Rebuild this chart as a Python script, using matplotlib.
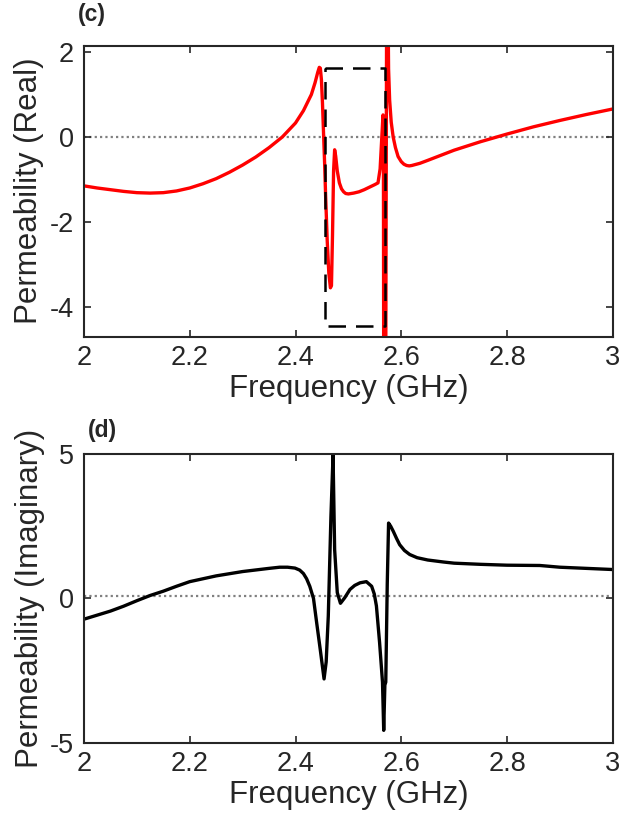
import matplotlib
matplotlib.use("Agg")
import matplotlib.pyplot as plt

plt.rcParams["font.family"] = ["Liberation Sans", "DejaVu Sans"]

# ── data ────────────────────────────────────────────────
freq_re = [2.00, 2.025, 2.05, 2.075, 2.10, 2.125, 2.15, 2.175, 2.20, 2.225,
           2.25, 2.275, 2.30, 2.325, 2.35, 2.375, 2.40, 2.415, 2.43, 2.437,
           2.442, 2.445, 2.447, 2.449, 2.451, 2.453, 2.455, 2.457, 2.460, 2.463,
           2.466, 2.468, 2.470, 2.472, 2.474, 2.476, 2.479, 2.483, 2.487, 2.491,
           2.495, 2.500, 2.510, 2.520, 2.530, 2.540, 2.550, 2.556, 2.560, 2.563,
           2.5655, 2.5662, 2.5668, 2.5700, 2.5725, 2.5740, 2.576, 2.578, 2.581, 2.5847,
           2.589, 2.594, 2.600, 2.605, 2.610, 2.615, 2.620, 2.635, 2.65, 2.675,
           2.70, 2.75, 2.80, 2.85, 2.90, 2.95, 3.00]
mu_re = [-1.15, -1.20, -1.24, -1.28, -1.31, -1.32, -1.31, -1.27, -1.20, -1.10,
         -0.98, -0.83, -0.66, -0.47, -0.25, 0.00, 0.33, 0.62, 1.00, 1.28,
         1.52, 1.64, 1.62, 1.35, 0.80, 0.10, -0.60, -1.40, -2.45, -3.20,
         -3.55, -3.50, -2.30, -0.80, -0.30, -0.45, -0.80, -1.08, -1.22, -1.29,
         -1.33, -1.34, -1.32, -1.29, -1.24, -1.18, -1.12, -1.08, -0.75, -0.05,
         0.52, 0.20, -6.00, -9.00, 4.00, 4.50, 1.60, 0.87, 0.35, 0.00,
         -0.25, -0.46, -0.58, -0.64, -0.67, -0.68, -0.67, -0.62, -0.55, -0.43,
         -0.31, -0.11, 0.07, 0.24, 0.39, 0.53, 0.66]

freq_im = [2.00, 2.025, 2.05, 2.075, 2.10, 2.125, 2.15, 2.175, 2.20, 2.25,
           2.30, 2.35, 2.37, 2.385, 2.399, 2.408, 2.415, 2.421, 2.427, 2.434,
           2.44, 2.447, 2.454, 2.458, 2.462, 2.467, 2.471, 2.474, 2.479, 2.485,
           2.493, 2.503, 2.512, 2.522, 2.534, 2.544, 2.549, 2.553, 2.559, 2.5645,
           2.5668, 2.5690, 2.5707, 2.5735, 2.576, 2.580, 2.585, 2.591, 2.597, 2.606,
           2.616, 2.63, 2.65, 2.68, 2.70, 2.75, 2.80, 2.862, 2.90, 2.95,
           3.00]
mu_im = [-0.72, -0.58, -0.44, -0.27, -0.08, 0.10, 0.25, 0.42, 0.58, 0.78,
         0.93, 1.04, 1.08, 1.08, 1.05, 0.98, 0.86, 0.68, 0.42, 0.00,
         -0.84, -1.80, -2.79, -2.20, -0.61, 2.84, 4.97, 1.69, 0.20, -0.17,
         0.02, 0.31, 0.45, 0.54, 0.58, 0.42, 0.15, -0.26, -1.53, -2.90,
         -4.57, -3.00, -2.90, 0.50, 2.61, 2.50, 2.32, 2.08, 1.86, 1.66,
         1.52, 1.41, 1.33, 1.26, 1.22, 1.18, 1.15, 1.14, 1.08, 1.04,
         1.00]

box_f = [2.456, 2.569]
box_mu = [-4.46, 1.62]

txt = "#262626"

fig = plt.figure(figsize=(6.41, 8.26), dpi=100)
ax1 = fig.add_axes([0.131, 0.5924, 0.825, 0.3523])
ax2 = fig.add_axes([0.131, 0.1008, 0.825, 0.3495])

for ax in (ax1, ax2):
    ax.tick_params(direction="in", length=5, width=1.2, labelsize=19.5,
                   colors=txt, top=True, right=True, pad=6)
    ax.tick_params(axis="y", pad=7)
    for s in ax.spines.values():
        s.set_linewidth(1.5)
        s.set_color(txt)
    ax.set_xlim(2, 3)
    ax.set_xticks([2, 2.2, 2.4, 2.6, 2.8, 3])
    ax.set_xticklabels(["2", "2.2", "2.4", "2.6", "2.8", "3"])
    ax.set_xlabel("Frequency (GHz)", fontsize=22.5, color=txt, labelpad=2)

# (c) real part
ax1.axhline(0, color="#808080", lw=1.6, ls=(0, (1, 1.4)), zorder=1)
ax1.plot(freq_re, mu_re, color="red", lw=2.4, zorder=2)
bx = [box_f[0], box_f[1], box_f[1], box_f[0], box_f[0]]
by = [box_mu[1], box_mu[1], box_mu[0], box_mu[0], box_mu[1]]
ax1.plot(bx, by, color="black", lw=1.8, ls=(0, (7, 4)), zorder=3)
ax1.set_ylim(-4.7, 2.15)
ax1.set_yticks([-4, -2, 0, 2])
ax1.set_yticklabels(["-4", "-2", "0", "2"])
ax1.set_ylabel("Permeability (Real)", fontsize=22.5, color=txt, labelpad=4)

# (d) imaginary part
ax2.axhline(0.1, color="#808080", lw=1.6, ls=(0, (1, 1.4)), zorder=1)
ax2.plot(freq_im, mu_im, color="black", lw=2.4, zorder=2)
ax2.set_ylim(-5, 5)
ax2.set_yticks([-5, 0, 5])
ax2.set_yticklabels(["-5", "0", "5"])
ax2.set_ylabel("Permeability (Imaginary)", fontsize=22.5, color=txt, labelpad=4)

fig.text(92 / 641, 1 - 15 / 826, "(c)", fontsize=16.5, fontweight="bold",
         color=txt, ha="center", va="center")
fig.text(102 / 641, 1 - 430 / 826, "(d)", fontsize=16.5, fontweight="bold",
         color=txt, ha="center", va="center")

plt.savefig("out.png", dpi=100)
